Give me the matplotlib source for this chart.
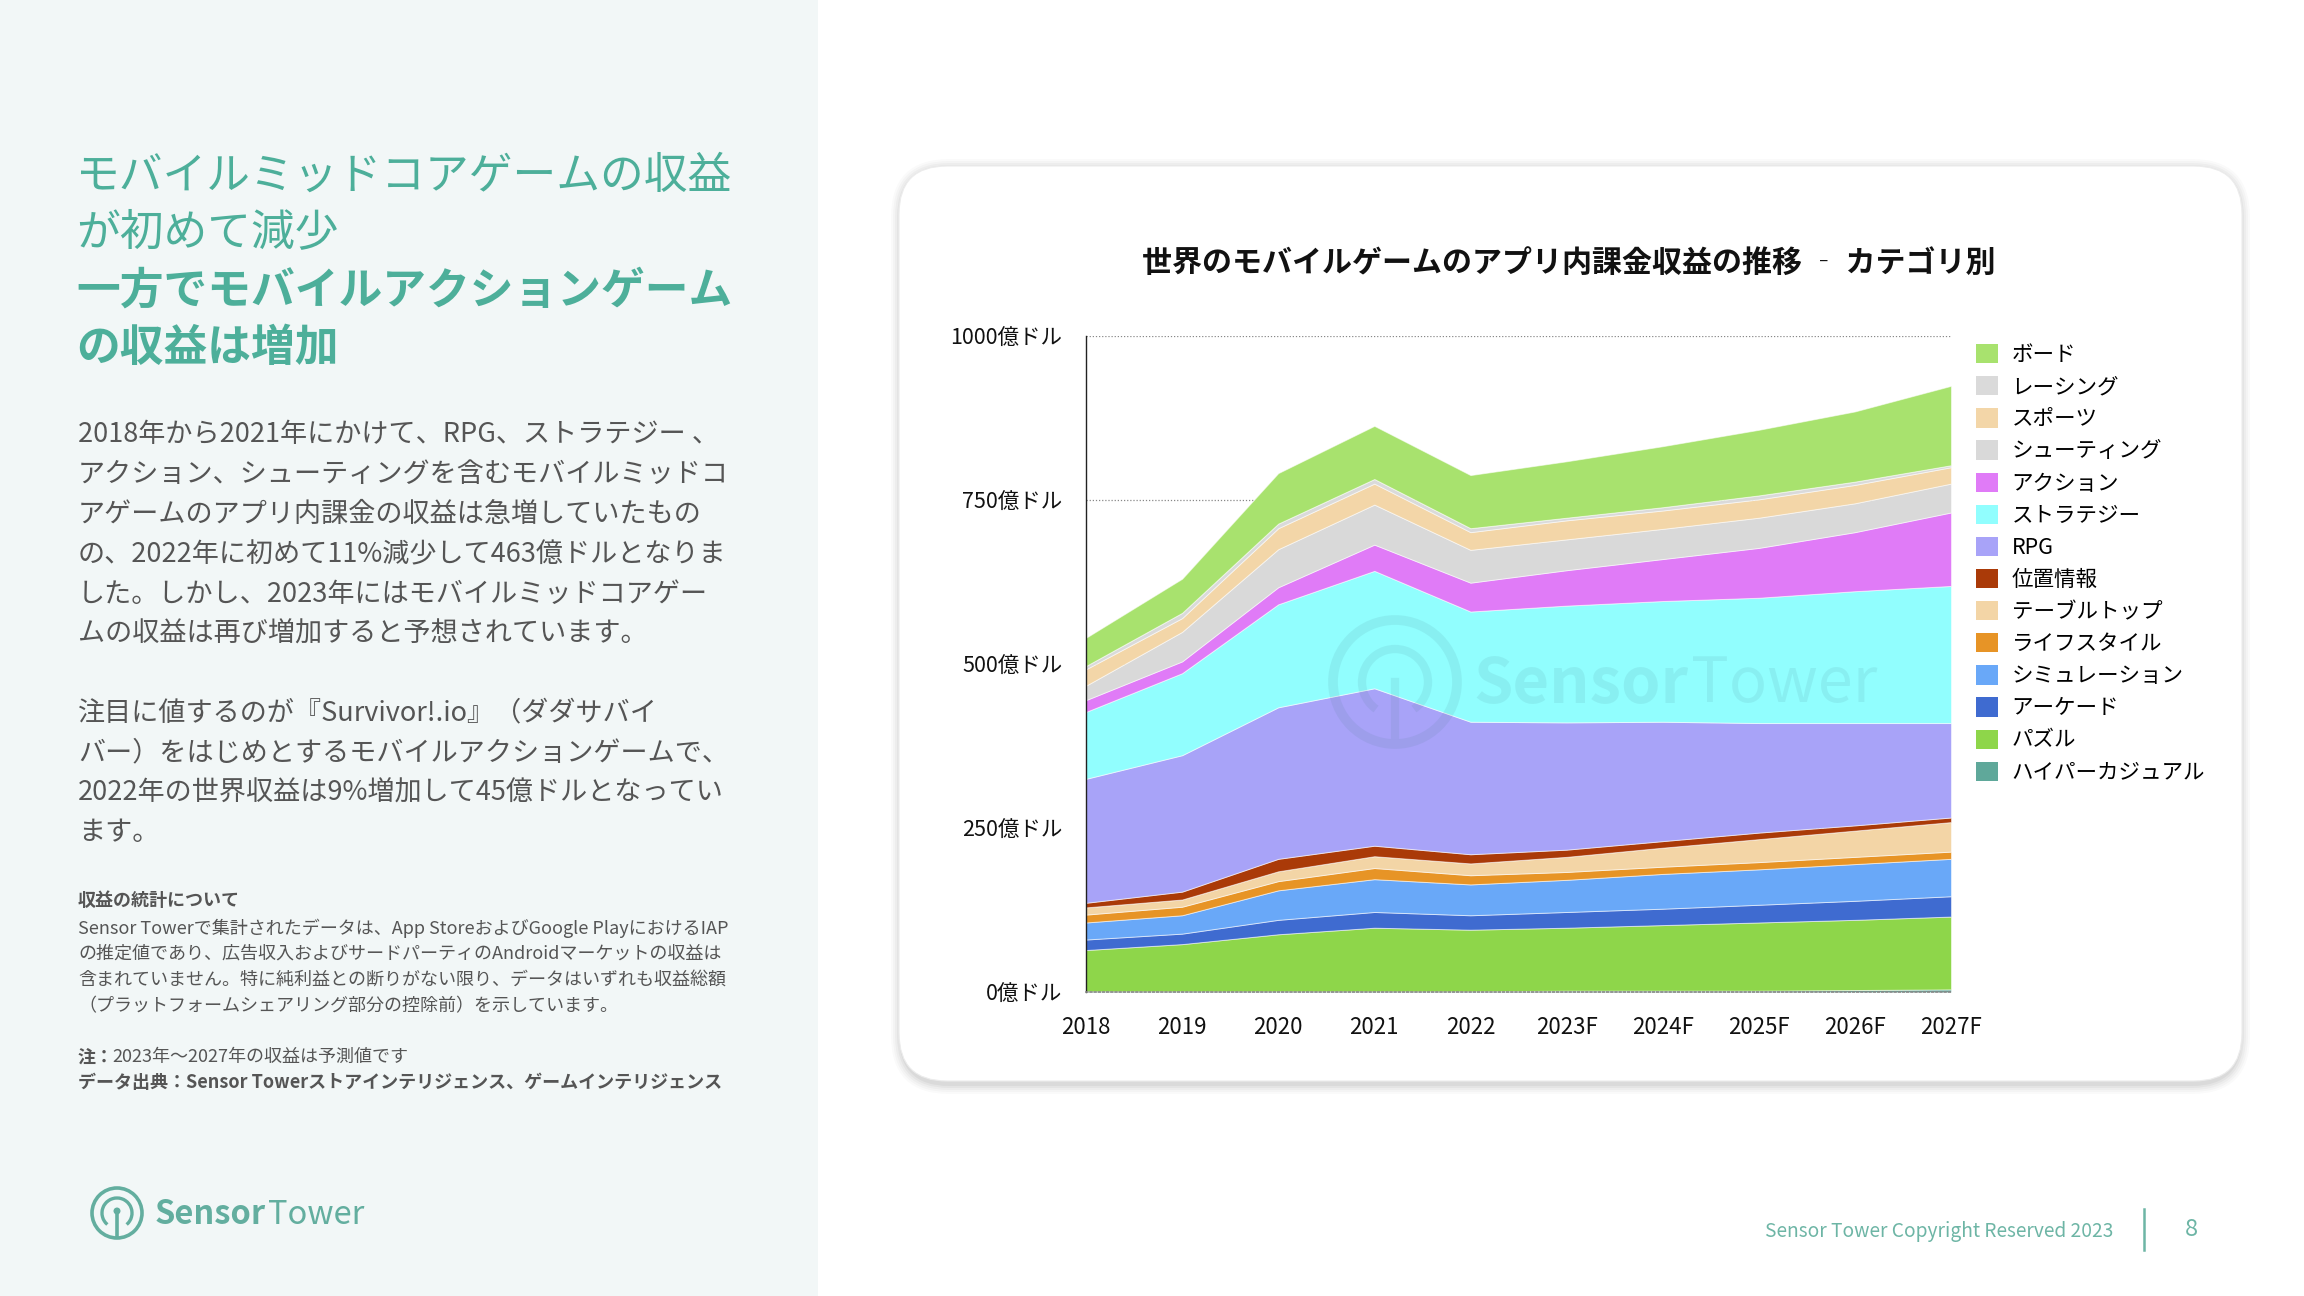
import matplotlib
matplotlib.use('Agg')
import matplotlib.pyplot as plt
from matplotlib.patches import FancyBboxPatch, Rectangle, Circle, Arc, Patch
from matplotlib.lines import Line2D
from matplotlib.transforms import IdentityTransform
import numpy as np

W, H = 2304, 1296
plt.rcParams['font.family'] = ['Noto Sans CJK JP', 'DejaVu Sans']

# ---------------- data ----------------
years = ['2018', '2019', '2020', '2021', '2022', '2023F', '2024F', '2025F', '2026F', '2027F']
# stacking order: bottom -> top
categories = ['ハイパーカジュアル', 'パズル', 'アーケード', 'シミュレーション', 'ライフスタイル',
              'テーブルトップ', '位置情報', 'RPG', 'ストラテジー', 'アクション',
              'シューティング', 'スポーツ', 'レーシング', 'ボード']
hyper_casual = [1, 1, 1, 1, 1, 2, 2, 2, 3, 4]
puzzle       = [63, 72, 87, 97, 94, 96, 100, 104, 107, 111]
arcade       = [16, 16, 22, 24, 22, 24, 25, 27, 29, 31]
simulation   = [26, 28, 45, 50, 47, 49, 53, 54, 56, 57]
lifestyle    = [12, 13, 14, 17, 14, 12, 11, 11, 11, 11]
tabletop     = [11, 11, 15, 18, 18, 23, 29, 35, 40, 45]
location     = [7, 12, 19, 16, 14, 11, 10, 10, 8, 7]
rpg          = [189, 208, 231, 240, 202, 194, 182, 167, 156, 144]
strategy     = [102, 125, 157, 179, 168, 178, 184, 191, 201, 209]
action       = [18, 18, 26, 40, 44, 54, 64, 76, 90, 112]
shooting     = [22, 45, 58, 61, 50, 47, 46, 46, 44, 44]
sports       = [25, 21, 32, 32, 27, 29, 28, 28, 28, 25]
racing       = [5, 8, 7, 7, 6, 4, 5, 6, 5, 3]
board        = [43, 52, 77, 81, 81, 86, 93, 100, 107, 121]
series = [hyper_casual, puzzle, arcade, simulation, lifestyle, tabletop, location,
          rpg, strategy, action, shooting, sports, racing, board]
colors = ['#5FA89A', '#8ED64A', '#3F6BD0', '#69A8F8', '#E79426', '#F3D5A6', '#AA3A08',
          '#A8A3F8', '#91FEFE', '#E07BF7', '#D9D9D9', '#F3D6A8', '#DADADA', '#A8E26E']
yticks = [0, 250, 500, 750, 1000]
ytick_labels = ['0億ドル', '250億ドル', '500億ドル', '750億ドル', '1000億ドル']

title = '世界のモバイルゲームのアプリ内課金収益の推移 ‐ カテゴリ別'
head_regular = ['モバイルミッドコアゲームの収益', 'が初めて減少']
head_bold = ['一方でモバイルアクションゲーム', 'の収益は増加']
para1 = ['2018年から2021年にかけて、RPG、ストラテジー 、',
         'アクション、シューティングを含むモバイルミッドコ',
         'アゲームのアプリ内課金の収益は急増していたもの',
         'の、2022年に初めて11%減少して463億ドルとなりま',
         'した。しかし、2023年にはモバイルミッドコアゲー',
         'ムの収益は再び増加すると予想されています。']
para2 = ['注目に値するのが『Survivor!.io』（ダダサバイ',
         'バー）をはじめとするモバイルアクションゲームで、',
         '2022年の世界収益は9%増加して45億ドルとなってい',
         'ます。']
note_title = '収益の統計について'
note_lines = ['Sensor Towerで集計されたデータは、App StoreおよびGoogle PlayにおけるIAP',
              'の推定値であり、広告収入およびサードパーティのAndroidマーケットの収益は',
              '含まれていません。特に純利益との断りがない限り、データはいずれも収益総額',
              '（プラットフォームシェアリング部分の控除前）を示しています。']

TEAL = '#4DAF9A'
LOGO = '#63AE9F'

fig = plt.figure(figsize=(23.04, 12.96), dpi=100)
fig.patch.set_facecolor('white')
PX = IdentityTransform()
renderer = fig.canvas.get_renderer()


def fx(x):
    return x / W


def fy(y):
    return 1 - y / H


def two_part(x, y, a, b, size, color, gap, z=5):
    t1 = fig.text(fx(x), fy(y), a, fontsize=size, fontweight='bold', color=color,
                  ha='left', va='center', zorder=z)
    ext = t1.get_window_extent(renderer)
    fig.text(fx(ext.x1 + gap), fy(y), b, fontsize=size, color=color,
             ha='left', va='center', zorder=z)


# left panel background
fig.patches.append(Rectangle((0, 0), 818, H, transform=PX, facecolor='#F2F7F7',
                             edgecolor='none', zorder=0))

# card with shadow
cx0, cy0, cx1, cy1 = 899, 166, 2242, 1081
for i, a in enumerate([0.018, 0.022, 0.028, 0.035, 0.045]):
    g = 10 - 2 * i
    fig.patches.append(FancyBboxPatch((cx0 - g + 2, H - cy1 - g - 3), (cx1 - cx0) + 2 * g - 4,
                                      (cy1 - cy0) + 2 * g, boxstyle='round,pad=0,rounding_size=%d' % (48 + g),
                                      transform=PX, facecolor='black', alpha=a,
                                      edgecolor='none', zorder=1))
fig.patches.append(FancyBboxPatch((cx0, H - cy1), cx1 - cx0, cy1 - cy0,
                                  boxstyle='round,pad=0,rounding_size=48', transform=PX,
                                  facecolor='white', edgecolor='#ECECEC', linewidth=0.8, zorder=2))

# chart axes
ax = fig.add_axes([fx(1086), fy(992), (1951 - 1086) / W, (992 - 336) / H], zorder=3)
ax.set_facecolor('none')
x = np.arange(len(years))
ax.stackplot(x, *series, colors=colors, edgecolor=(1, 1, 1, 0.55), linewidth=0.7, zorder=2)
ax.set_xlim(0, len(years) - 1)
ax.set_ylim(0, 1000)
ax.set_xticks(x)
ax.set_xticklabels(years, fontsize=16, color='#111111')
ax.set_yticks(yticks)
ax.set_yticklabels(ytick_labels, fontsize=15.5, color='#111111')
ax.tick_params(axis='both', length=0)
ax.tick_params(axis='y', pad=17)
ax.tick_params(axis='x', pad=17)
ax.yaxis.grid(True, linestyle=(0, (1, 1.5)), color='#888888', linewidth=0.9)
ax.set_axisbelow(True)
for s in ['top', 'right']:
    ax.spines[s].set_visible(False)
ax.spines['left'].set_color('#222222')
ax.spines['left'].set_linewidth(1.0)
ax.spines['bottom'].set_color('#888888')
ax.spines['bottom'].set_linestyle((0, (1, 1.5)))
ax.spines['bottom'].set_linewidth(1.2)

# watermark
wm_col = (0.25, 0.45, 0.5, 0.10)
fig.patches.append(Circle((1395, H - 682), 62, transform=PX, facecolor='none',
                          edgecolor=wm_col, linewidth=7, zorder=5))
fig.patches.append(Arc((1395, H - 682), 66, 66, theta1=-55, theta2=235, transform=PX,
                       edgecolor=wm_col, linewidth=6, zorder=5))
fig.lines.append(Line2D([1395, 1395], [H - 682, H - 735], transform=PX, color=wm_col,
                        linewidth=6, zorder=5))
two_part(1473, 684, 'Sensor', 'Tower', 45.5, wm_col, 3)

# chart title
fig.text(fx(1569), fy(263), title, fontsize=21.6, fontweight='bold', color='#111111',
         ha='center', va='center', zorder=4)

# legend (top -> bottom)
handles = [Patch(facecolor=c, edgecolor='none') for c in colors[::-1]]
fig.legend(handles, categories[::-1], loc='upper left', bbox_to_anchor=(fx(1976), fy(344)),
           frameon=False, fontsize=15.5, handlelength=1.0, handleheight=1.0,
           handletextpad=0.65, labelspacing=0.47, borderpad=0, borderaxespad=0)

# left text
for i, t in enumerate(head_regular):
    fig.text(fx(76), fy(176 + 56 * i), t, fontsize=31.5, color=TEAL, ha='left', va='center')
for i, t in enumerate(head_bold):
    fig.text(fx(76), fy(291 + 57 * i), t, fontsize=31.5, fontweight='bold', color=TEAL,
             ha='left', va='center')
BODY = '#555555'
for i, t in enumerate(para1):
    fig.text(fx(78), fy(435 + 39.8 * i), t, fontsize=19.5, color=BODY, ha='left', va='center')
for i, t in enumerate(para2):
    fig.text(fx(78), fy(713 + 39.8 * i), t, fontsize=19.5, color=BODY, ha='left', va='center')
fig.text(fx(78), fy(901), note_title, fontsize=13, fontweight='bold', color=BODY,
         ha='left', va='center')
for i, t in enumerate(note_lines):
    fig.text(fx(78), fy(928 + 26 * i), t, fontsize=13, color=BODY, ha='left', va='center')
fig.text(fx(78), fy(1057), '注：', fontsize=13, fontweight='bold', color=BODY, ha='left', va='center')
fig.text(fx(112), fy(1057), '2023年～2027年の収益は予測値です', fontsize=13, color=BODY,
         ha='left', va='center')
fig.text(fx(78), fy(1083), 'データ出典：Sensor Towerストアインテリジェンス、ゲームインテリジェンス',
         fontsize=13, fontweight='bold', color=BODY, ha='left', va='center')

# bottom-left logo
fig.patches.append(Circle((117, H - 1213), 25, transform=PX, facecolor='none',
                          edgecolor=LOGO, linewidth=2.6, zorder=5))
fig.patches.append(Arc((117, H - 1213), 30, 30, theta1=-50, theta2=230, transform=PX,
                       edgecolor=LOGO, linewidth=2.4, zorder=5))
fig.lines.append(Line2D([117, 117], [H - 1211, H - 1236], transform=PX, color=LOGO,
                        linewidth=2.6, zorder=5))
fig.patches.append(Circle((117, H - 1211), 3.5, transform=PX, facecolor=LOGO,
                          edgecolor='none', zorder=5))
two_part(155, 1215, 'Sensor', 'Tower', 23.5, LOGO, 2)

# footer
FOOT = '#6DB5A5'
fig.text(fx(2113), fy(1232), 'Sensor Tower Copyright Reserved 2023', fontsize=13.8,
         color=FOOT, ha='right', va='center')
fig.lines.append(Line2D([2144, 2144], [H - 1209, H - 1250], transform=PX, color=FOOT,
                        linewidth=1.8))
fig.text(fx(2191), fy(1229), '8', fontsize=17, color=FOOT, ha='center', va='center')

fig.savefig('out.png', dpi=100, facecolor=fig.get_facecolor())
